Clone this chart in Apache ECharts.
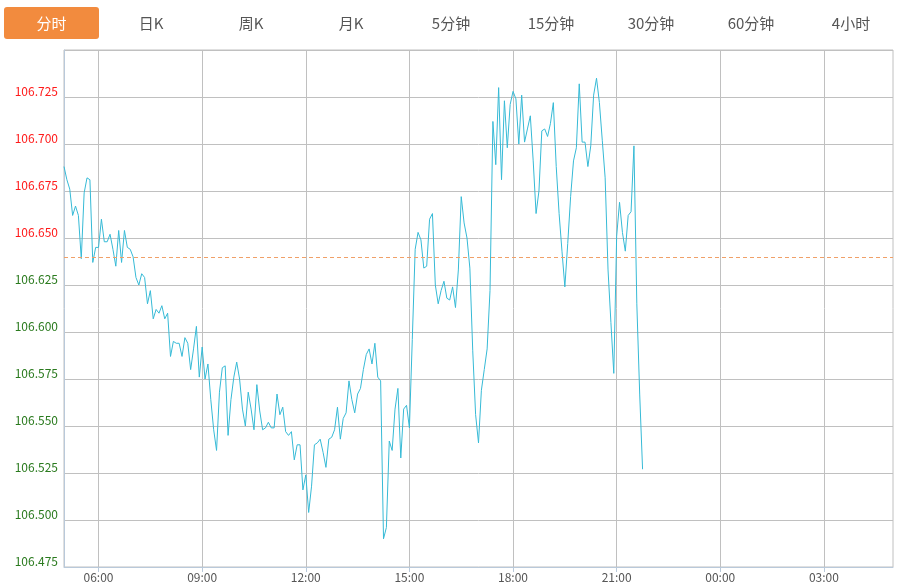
<!DOCTYPE html>
<html>
<head>
<meta charset="utf-8">
<script src="https://cdn.jsdelivr.net/npm/echarts@6/dist/echarts.min.js"></script>
<style>
  html, body { margin: 0; padding: 0; background: #fff; }
  #wrap { position: relative; width: 900px; height: 584px; overflow: hidden; }
  #chart { position: absolute; left: 0; top: 0; width: 900px; height: 584px; }
  #tabs { position: absolute; left: 0; top: 7px; width: 900px; height: 32px; z-index: 2; }
  .tab { position: absolute; top: 0; width: 100px; height: 32px; line-height: 32px; text-align: center;
         font-family: "Microsoft YaHei", "Noto Sans CJK SC", sans-serif; font-size: 15px; color: #555; }
  .tab.active { background: #f28b3e; color: #fff; border-radius: 3px; width: 95px; }
</style>
</head>
<body>
<div id="wrap">
  <div id="chart"></div>
  <div id="tabs"></div>
</div>
<script>
// ---- data ----
const tabLabels = ['分时', '日K', '周K', '月K', '5分钟', '15分钟', '30分钟', '60分钟', '4小时'];
const refPrice = 106.640;
const yMin = 106.475;
const yMax = 106.750;
const yStep = 0.025;
// 5-minute prices starting 05:00
const prices = [
  106.688, 106.681, 106.676, 106.662, 106.667, 106.662, 106.639, 106.674, 106.682, 106.681,
  106.637, 106.645, 106.645, 106.660, 106.648, 106.648, 106.652, 106.644, 106.635, 106.654,
  106.637, 106.654, 106.645, 106.644, 106.640, 106.629, 106.625, 106.631, 106.629, 106.615,
  106.622, 106.607, 106.612, 106.610, 106.614, 106.607, 106.610, 106.587, 106.595, 106.594,
  106.594, 106.587, 106.597, 106.594, 106.580, 106.591, 106.603, 106.576, 106.592, 106.575,
  106.583, 106.564, 106.548, 106.537, 106.568, 106.581, 106.582, 106.545, 106.564, 106.576,
  106.584, 106.575, 106.559, 106.550, 106.568, 106.559, 106.548, 106.572, 106.558, 106.548,
  106.549, 106.552, 106.549, 106.549, 106.567, 106.556, 106.560, 106.547, 106.545, 106.547,
  106.532, 106.540, 106.540, 106.516, 106.524, 106.504, 106.518, 106.540, 106.541, 106.543,
  106.536, 106.528, 106.543, 106.544, 106.548, 106.560, 106.543, 106.554, 106.557, 106.574,
  106.564, 106.557, 106.567, 106.570, 106.580, 106.588, 106.591, 106.583, 106.594, 106.576,
  106.574, 106.490, 106.496, 106.542, 106.537, 106.559, 106.570, 106.533, 106.559, 106.561,
  106.549, 106.596, 106.644, 106.653, 106.649, 106.634, 106.635, 106.660, 106.663, 106.625,
  106.615, 106.622, 106.627, 106.618, 106.617, 106.624, 106.613, 106.633, 106.672, 106.658,
  106.650, 106.634, 106.590, 106.556, 106.541, 106.569, 106.580, 106.591, 106.622, 106.712,
  106.689, 106.730, 106.681, 106.723, 106.698, 106.721, 106.728, 106.724, 106.700, 106.726,
  106.701, 106.708, 106.715, 106.691, 106.663, 106.675, 106.707, 106.708, 106.704, 106.711,
  106.722, 106.688, 106.663, 106.643, 106.624, 106.647, 106.672, 106.691, 106.698, 106.732,
  106.701, 106.701, 106.688, 106.699, 106.726, 106.735, 106.722, 106.702, 106.682, 106.633,
  106.605, 106.578, 106.651, 106.669, 106.653, 106.643, 106.662, 106.664, 106.699, 106.615,
  106.567, 106.527
];
// time categories: 05:00 -> 05:00 next day, every 5 minutes
const pad = n => (n < 10 ? '0' : '') + n;
const times = [];
for (let m = 300; m <= 1740; m += 5) {
  times.push(pad(Math.floor(m / 60) % 24) + ':' + pad(m % 60));
}
const isMajor = (idx, val) => /^(00|03|06|09|12|15|18|21):00$/.test(val) && idx > 0 && idx < times.length - 1;

// ---- tabs ----
const tabsEl = document.getElementById('tabs');
tabLabels.forEach((t, i) => {
  const d = document.createElement('div');
  d.className = 'tab' + (i === 0 ? ' active' : '');
  d.style.left = (i === 0 ? 4 : i * 100 + 1) + 'px';
  d.textContent = t;
  tabsEl.appendChild(d);
});

// ---- chart ----
const chart = echarts.init(document.getElementById('chart'), null, { renderer: 'canvas' });
const font = '"Microsoft YaHei", "Noto Sans CJK SC", sans-serif';
chart.setOption({
  animation: false,
  backgroundColor: 'transparent',
  grid: { left: 64, top: 50, width: 829, height: 517, show: true, borderColor: '#c0c0c0', borderWidth: 1, containLabel: false },
  xAxis: {
    type: 'category',
    data: times,
    boundaryGap: false,
    axisLine: { show: true, lineStyle: { color: '#b9c9da', width: 1 } },
    axisTick: { show: true, length: 5, interval: isMajor, lineStyle: { color: '#b9c9da' } },
    axisLabel: { interval: isMajor, color: '#555', fontSize: 12, fontFamily: font, margin: 4 },
    splitLine: { show: true, interval: isMajor, lineStyle: { color: '#c0c0c0', width: 1 } }
  },
  yAxis: {
    type: 'value',
    min: yMin,
    max: yMax,
    interval: yStep,
    axisLine: { show: true, lineStyle: { color: '#b9c9da', width: 1 } },
    axisTick: { show: false },
    axisLabel: {
      showMaxLabel: false,
      showMinLabel: true,
      fontSize: 12,
      fontFamily: font,
      margin: 6,
      verticalAlign: 'bottom',
      lineHeight: 11,
      formatter: v => v.toFixed(3),
      color: v => (v > refPrice ? '#ff1a1a' : '#2a7a1e')
    },
    splitLine: { show: true, lineStyle: { color: '#c0c0c0', width: 1 } }
  },
  series: [{
    type: 'line',
    data: prices,
    symbol: 'none',
    smooth: false,
    lineStyle: { color: '#36bad6', width: 1 },
    itemStyle: { color: '#36bad6' },
    markLine: {
      silent: true,
      symbol: ['none', 'none'],
      label: { show: false },
      lineStyle: { color: '#f0a068', type: [4, 3], width: 1 },
      data: [{ yAxis: refPrice }]
    }
  }]
});
</script>
</body>
</html>
